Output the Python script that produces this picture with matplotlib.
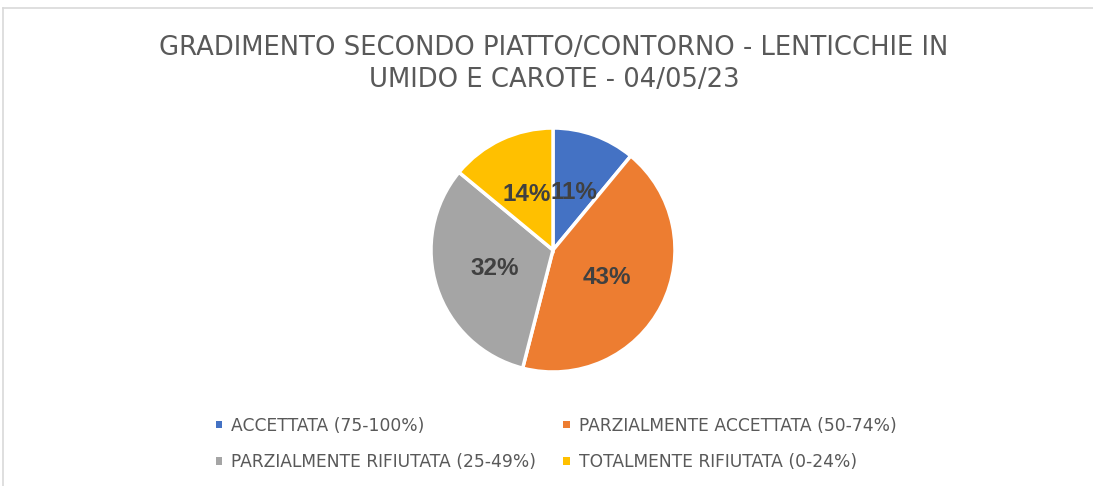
"""Pie chart: gradimento secondo piatto/contorno, lenticchie in umido e carote."""

import matplotlib

matplotlib.use("Agg")
import matplotlib.pyplot as plt
from matplotlib.lines import Line2D
from matplotlib.patches import Patch

TITLE = "GRADIMENTO SECONDO PIATTO/CONTORNO - LENTICCHIE IN\nUMIDO E CAROTE - 04/05/23"
CATEGORIES = [
    "ACCETTATA (75-100%)",
    "PARZIALMENTE ACCETTATA (50-74%)",
    "PARZIALMENTE RIFIUTATA (25-49%)",
    "TOTALMENTE RIFIUTATA (0-24%)",
]
SHARES = [11, 43, 32, 14]
COLORS = ["#4472C4", "#ED7D31", "#A5A5A5", "#FFC000"]

W, H = 1093, 486
fig = plt.figure(figsize=(W / 100, H / 100), dpi=100)

# chart-area border (top and left edges visible)
fig.add_artist(Line2D([3 / W, 3 / W], [0, 1 - 8 / H], color="#D9D9D9", lw=1.2))
fig.add_artist(Line2D([3 / W, 1], [1 - 8 / H, 1 - 8 / H], color="#D9D9D9", lw=1.2))

fig.text(554 / W, 1 - 64 / H, TITLE, ha="center", va="center", fontsize=18.6,
         color="#595959", family="DejaVu Sans", linespacing=1.28)

cx, cy, r = 553, 250, 122
ax = fig.add_axes([(cx - r) / W, (H - cy - r) / H, 2 * r / W, 2 * r / H])
wedges, _, autotexts = ax.pie(
    SHARES,
    colors=COLORS,
    startangle=90,
    counterclock=False,
    autopct="%1.0f%%",
    pctdistance=0.5,
    wedgeprops=dict(edgecolor="white", linewidth=2.5),
    textprops=dict(color="#404040", fontsize=17.5, fontweight="bold",
                   family="Liberation Sans"),
)
ax.set_xlim(-1, 1)
ax.set_ylim(-1, 1)

# legend swatches without the white wedge edge
handles = [Patch(facecolor=w.get_facecolor(), edgecolor="none") for w in wedges]
order = [0, 2, 1, 3]
fig.legend(
    [handles[i] for i in order],
    [CATEGORIES[i] for i in order],
    loc="center",
    bbox_to_anchor=(556 / W, 1 - 444 / H),
    ncol=2,
    frameon=False,
    handlelength=0.4,
    handleheight=0.3,
    handletextpad=0.5,
    columnspacing=1.6,
    labelspacing=1.1,
    prop=dict(family="DejaVu Sans", size=12.3),
    labelcolor="#595959",
)

fig.savefig("out.png", dpi=100)
